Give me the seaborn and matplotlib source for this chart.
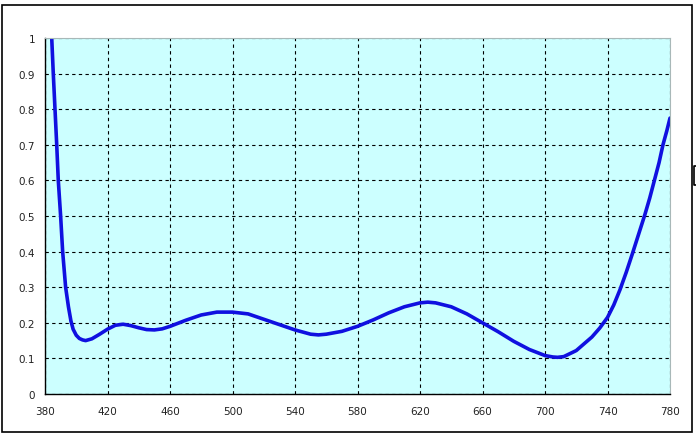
import matplotlib
matplotlib.use("Agg")
import matplotlib.pyplot as plt
import numpy as np
import pandas as pd
import seaborn as sns
from matplotlib.lines import Line2D

# wavelength (nm) and reflectance
wavelength = [384.3, 385.3, 386.4, 387.5, 388.5, 390, 391.3, 393.2, 395, 396.6, 398,
              400, 402, 404, 406, 410, 415, 420, 425, 430, 435, 440, 445, 450, 455,
              460, 470, 480, 490, 500, 510, 520, 530, 540, 550, 555, 560, 570, 580,
              590, 600, 610, 620, 625, 630, 640, 650, 660, 670, 680, 690, 700, 705,
              708, 712, 720, 730, 735, 740, 744, 748, 752, 756, 760, 764, 767, 770,
              773, 775.5, 778, 780]
reflectance = [1.0, 0.9, 0.8, 0.7, 0.6, 0.5, 0.4, 0.3, 0.245, 0.205, 0.182, 0.165,
               0.156, 0.152, 0.15, 0.155, 0.168, 0.182, 0.193, 0.196, 0.192, 0.186,
               0.181, 0.18, 0.183, 0.19, 0.207, 0.222, 0.23, 0.23, 0.225, 0.21, 0.195,
               0.18, 0.168, 0.166, 0.168, 0.176, 0.19, 0.208, 0.228, 0.245, 0.256,
               0.258, 0.256, 0.245, 0.225, 0.2, 0.175, 0.148, 0.125, 0.108, 0.104,
               0.103, 0.105, 0.122, 0.16, 0.185, 0.215, 0.25, 0.293, 0.342, 0.395,
               0.45, 0.505, 0.55, 0.6, 0.65, 0.7, 0.74, 0.775]

x_ticks = [380, 420, 460, 500, 540, 580, 620, 660, 700, 740, 780]
y_ticks = [0, 0.1, 0.2, 0.3, 0.4, 0.5, 0.6, 0.7, 0.8, 0.9, 1]
y_labels = ["0", "0.1", "0.2", "0.3", "0.4", "0.5", "0.6", "0.7", "0.8", "0.9", "1"]

sns.set_style("white")
plt.rcParams["font.family"] = ["DejaVu Sans"]

df = pd.DataFrame({"wavelength": wavelength, "reflectance": reflectance})

W, H = 696, 435
fig = plt.figure(figsize=(W / 100, H / 100), dpi=100)
ax = fig.add_axes([45 / W, (H - 395) / H, 625 / W, 356 / H])
ax.set_facecolor("#ccffff")

sns.lineplot(data=df, x="wavelength", y="reflectance", ax=ax,
             color="#1010e0", linewidth=2.6, solid_capstyle="round",
             solid_joinstyle="round")

ax.set_xlim(380, 780)
ax.set_ylim(0, 1)
ax.set_xticks(x_ticks)
ax.set_xticklabels([str(t) for t in x_ticks])
ax.set_yticks(y_ticks)
ax.set_yticklabels(y_labels)
ax.grid(True, color="black", linestyle=(0, (3, 3)), linewidth=0.8)
ax.set_axisbelow(True)
ax.tick_params(axis="x", length=0, pad=9, labelsize=7.5, colors="#222222")
ax.tick_params(axis="y", length=3, width=0.8, color="black", pad=4,
               labelsize=7.5, labelcolor="#222222")
ax.set_xlabel("")
ax.set_ylabel("")

for side in ["left", "bottom"]:
    ax.spines[side].set_color("black")
    ax.spines[side].set_linewidth(1.0)
for side in ["top", "right"]:
    ax.spines[side].set_color("#a8b8b8")
    ax.spines[side].set_linewidth(0.8)

# outer chart frame
frame = plt.Rectangle((2 / W, 2 / H), 690 / W, 427 / H, transform=fig.transFigure,
                      fill=False, edgecolor="black", linewidth=1.2)
fig.add_artist(frame)

# clipped legend edge at the right border
bx = [696 / W, 694 / W, 694 / W, 696 / W]
by = [1 - 167 / H, 1 - 167 / H, 1 - 186 / H, 1 - 186 / H]
fig.add_artist(Line2D(bx, by, transform=fig.transFigure, color="black", linewidth=1.2))

fig.savefig("out.png", dpi=100)
